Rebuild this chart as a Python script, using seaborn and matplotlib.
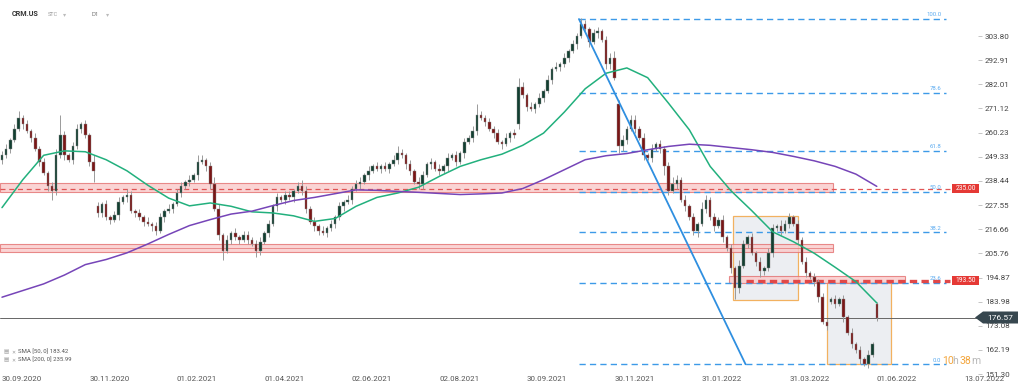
import numpy as np
import pandas as pd
import seaborn as sns
import matplotlib.pyplot as plt
from matplotlib.patches import Rectangle, Polygon

W, H = 1024, 390

# ---- candles: one candle per 2 trading days, open = previous close unless gapped
step = 2
closes = [250, 253, 257, 262, 267, 264, 261, 258, 253, 247,
          242, 236, 234, 250, 259, 250, 248, 254, 262, 264,
          259, 247, 243, 224, 228, 222, 221, 223, 229, 231,
          232, 225, 224, 222, 220, 219, 218, 216, 222, 225,
          226, 228, 233, 236, 238, 239, 241, 247, 248, 245,
          237, 226, 214, 207, 212, 215, 213, 212, 214, 212,
          210, 207, 211, 215, 219, 227, 231, 230, 232, 231,
          234, 236, 234, 226, 220, 218, 216, 215, 217, 219,
          222, 227, 229, 230, 235, 237, 238, 241, 243, 245,
          244, 245, 244, 246, 248, 251, 250, 246, 243, 238,
          237, 241, 246, 247, 244, 243, 245, 249, 250, 247,
          251, 256, 258, 261, 268, 267, 265, 262, 260, 256,
          255, 258, 260, 259, 281, 277, 272, 271, 273, 276,
          279, 284, 289, 290, 291, 294, 297, 300, 304, 309,
          307, 301, 305, 306, 302, 291, 294, 285, 254, 257,
          262, 266, 262, 258, 250, 249, 253, 255, 253, 245,
          234, 237, 239, 230, 227, 222, 216, 219, 226, 230,
          222, 218, 221, 213, 208, 199, 190, 200, 210, 213,
          206, 202, 198, 199, 206, 217, 218, 216, 219, 222,
          219, 212, 202, 197, 195, 193, 186, 175, 173, 185,
          183, 185, 177, 170, 165, 162, 158, 156, 160, 165, 176.57]
gap_opens = {0: 248, 23: 227, 124: 264, 148: 273, 199: 184, 210: 183}
wick_up = [2, 2, 1, 2, 3, 1, 2, 1, 2, 1,
           2, 1, 2, 3, 9, 2, 1, 2, 2, 1,
           2, 1, 3, 2, 1, 2, 1, 2, 2, 1,
           3, 2, 1, 2, 1, 2, 1, 2, 2, 1,
           2, 1, 2, 2, 1, 2, 1, 3, 2, 1,
           2, 3, 2, 1, 2, 1, 2, 1, 2, 2,
           1, 2, 2, 1, 2, 1, 2, 1, 2, 2,
           1, 2, 3, 2, 1, 2, 1, 2, 1, 2,
           1, 2, 1, 2, 1, 2, 2, 1, 2, 1,
           2, 1, 2, 1, 2, 3, 2, 1, 2, 1,
           2, 2, 1, 2, 1, 2, 1, 2, 1, 2,
           1, 2, 1, 2, 5, 2, 1, 2, 1, 2,
           1, 2, 1, 2, 4, 2, 1, 2, 1, 2,
           1, 2, 1, 2, 1, 2, 1, 2, 1, 3,
           2, 1, 2, 2, 1, 2, 2, 3, 2, 2,
           1, 2, 2, 1, 2, 1, 2, 1, 2, 1,
           2, 3, 2, 1, 2, 1, 2, 1, 3, 2,
           1, 2, 1, 2, 1, 2, 1, 3, 2, 1,
           2, 1, 2, 1, 2, 2, 1, 3, 2, 2,
           1, 2, 1, 2, 1, 2, 1, 2, 1, 1,
           2, 1, 2, 1, 2, 1, 2, 1, 2, 1, 1]
wick_dn = [2, 1, 2, 1, 1, 2, 1, 2, 1, 2,
           1, 2, 4, 2, 1, 2, 1, 2, 1, 2,
           1, 2, 5, 2, 2, 1, 2, 1, 2, 1,
           2, 1, 2, 1, 2, 1, 2, 2, 1, 2,
           1, 2, 1, 2, 1, 2, 1, 2, 1, 2,
           2, 1, 2, 4, 1, 2, 1, 2, 1, 2,
           1, 3, 2, 1, 2, 1, 2, 1, 2, 1,
           2, 1, 2, 2, 1, 2, 2, 1, 2, 1,
           2, 1, 2, 1, 2, 1, 2, 1, 2, 1,
           1, 2, 1, 2, 1, 2, 1, 2, 2, 1,
           2, 2, 1, 2, 1, 2, 1, 2, 1, 2,
           1, 2, 1, 2, 2, 1, 2, 1, 2, 1,
           2, 1, 2, 1, 2, 1, 2, 1, 2, 1,
           2, 1, 2, 1, 2, 1, 2, 1, 2, 1,
           1, 2, 1, 2, 1, 2, 2, 1, 3, 2,
           2, 1, 2, 1, 2, 1, 2, 1, 2, 4,
           2, 1, 2, 1, 2, 1, 2, 3, 1, 2,
           1, 2, 1, 2, 1, 2, 5, 2, 1, 2,
           1, 2, 3, 2, 1, 2, 1, 2, 1, 2,
           1, 2, 1, 2, 1, 2, 2, 1, 2, 1,
           2, 1, 2, 1, 2, 1, 2, 1, 2, 1, 1.5]

# ---- moving averages, one value every 10 trading days
sma_step = 10
sma50 = [226.4, 239, 250, 252, 251.6, 248, 243, 236.5, 230.7, 227.2,
         228.5, 227, 224.5, 224, 222.7, 220.2, 221.5, 227, 231, 233,
         235.6, 240.5, 245, 248, 250.5, 254.5, 260, 269.5, 280, 287,
         289.4, 285, 273.5, 261.5, 245, 234, 225, 215.5, 211, 205.8,
         199.5, 193, 183.42]
sma200 = [186, 189, 192, 196, 200.7, 203, 206, 210, 214.3, 218.3,
          221, 223.5, 224.8, 227.3, 229.6, 231, 232.7, 234.4, 234.2, 233.7,
          233.3, 232.8, 232.3, 232.6, 233, 235, 239, 243.5, 248, 249.8,
          250.8, 252.5, 254, 255, 254.5, 253.5, 252.5, 251.3, 249.5, 247.5,
          245, 241.5, 235.99]

date_ticks = [0, 42, 84, 126, 168, 210, 252, 294, 336, 378, 420, 462]
date_labels = ["30.09.2020", "30.11.2020", "01.02.2021", "01.04.2021",
               "02.06.2021", "02.08.2021", "30.09.2021", "30.11.2021",
               "31.01.2022", "31.03.2022", "01.06.2022", "13.07.2022"]
price_ticks = [303.80, 292.91, 282.01, 271.12, 260.23, 249.33, 238.44, 227.55,
               216.66, 205.76, 194.87, 183.98, 173.08, 162.19, 151.30]

# ---- drawing tools
fib_levels = [100.0, 78.6, 61.8, 50.0, 38.2, 23.6, 0.0]
fib_hi, fib_lo = 311.45, 155.75
fib_span = [277, 453]
trend_idx = [277, 357]
trend_price = [311.45, 155.75]
zones = [(-1, 399, 233.5, 237.5), (-1, 399, 206.2, 209.8), (349, 433.5, 192.2, 195.4)]
boxes = [(351, 382, 184.55, 222.8), (396, 427, 155.75, 192.65)]
last_price = 176.57
sma50_last, sma200_last = 183.42, 235.99

sns.set_theme(style="white")
plt.rcParams['font.family'] = ['Roboto', 'DejaVu Sans']

fig = plt.figure(figsize=(W / 100, H / 100), dpi=100)
ax = fig.add_axes([0, 1 - 376 / H, 978 / W, 376 / H])
ax.set_xlim(-0.96, 468.6)
ax.set_ylim(150.46, 320.04)


def fpx(x, y):
    return x / W, 1 - y / H


# boxes and zones (behind)
for x0, x1, lo, hi in boxes:
    ax.add_patch(Rectangle((x0, lo), x1 - x0, hi - lo, fc='#eceef2', ec='#f2b160', lw=0.9, zorder=1))
for x0, x1, lo, hi in zones:
    ax.add_patch(Rectangle((x0, lo), x1 - x0, hi - lo, fc='#f9caca', ec='#e37070', lw=0.8,
                           alpha=0.8, zorder=2))
ax.hlines(208.0, -1, 399, colors='#e37070', lw=0.5, zorder=2)

# fibonacci
for lvl in fib_levels:
    p = fib_lo + lvl / 100 * (fib_hi - fib_lo)
    ax.hlines(p, fib_span[0], fib_span[1], colors='#3d9ae8', linestyles=(0, (4.5, 3)), lw=1.0, zorder=2)
    ax.annotate(f"{lvl:.1f}", (451, p), xytext=(0, 1.2), textcoords='offset points',
                ha='right', va='bottom', fontsize=4.3, color='#5aaaf0', zorder=6)
ax.plot(trend_idx, trend_price, color='#2f8fe0', lw=1.3, zorder=6)

# key levels
ax.hlines(235.0, -1, 455, colors='#e05555', linestyles=(0, (4, 3)), lw=0.9, zorder=2.5)
ax.hlines(193.5, 357, 455, colors='#e04848', linestyles=(0, (2.2, 1.3)), lw=2.4, zorder=2.5)
ax.axhline(last_price, color='#666666', lw=0.7, zorder=2.5)

# candles
n = len(closes)
opens = [gap_opens.get(k, closes[k - 1] if k else closes[0]) for k in range(n)]
df = pd.DataFrame(dict(idx=np.arange(n) * step, open=opens, close=closes, up=wick_up, dn=wick_dn))
df['top'] = df[['open', 'close']].max(axis=1)
df['bot'] = df[['open', 'close']].min(axis=1)
df['high'] = df['top'] + df['up']
df['low'] = df['bot'] - df['dn']
rising = df['close'] >= df['open']
ax.vlines(df['idx'], df['low'], df['high'], color='#9a9a9a', lw=0.7, zorder=3)
ax.bar(df['idx'], (df['top'] - df['bot']).clip(lower=0.4), bottom=df['bot'], width=1.2,
       color=np.where(rising, '#123f31', '#7a1616'), edgecolor='#8c8c8c', linewidth=0.3, zorder=4)

# moving averages
sma = pd.DataFrame(dict(idx=np.arange(len(sma50)) * sma_step, sma50=sma50, sma200=sma200))
sns.lineplot(data=sma, x='idx', y='sma50', color='#22b07d', lw=1.1, ax=ax, zorder=5)
sns.lineplot(data=sma, x='idx', y='sma200', color='#7645b8', lw=1.1, ax=ax, zorder=5)
ax.set_xlabel('')
ax.set_ylabel('')

# axes
ax.grid(False)
for s in ax.spines.values():
    s.set_visible(False)
ax.yaxis.tick_right()
ax.set_yticks(price_ticks, [f"{v:.2f}" for v in price_ticks])
ax.tick_params(axis='y', length=3, width=0.6, color='#bbbbbb', pad=2, labelsize=5.8, labelcolor='#444444')
ax.set_xticks(date_ticks, date_labels)
for lbl in ax.get_xticklabels():
    lbl.set_ha('left')
ax.tick_params(axis='x', length=0, pad=0, labelsize=5.7, labelcolor='#555555')

# price tags
tag = [(975, 317.5), (983, 311.5), (1018, 311.5), (1018, 323.5), (983, 323.5)]
fig.add_artist(Polygon([fpx(*p) for p in tag], closed=True, fc='#37474f', ec='none',
                       transform=fig.transFigure))
fig.text(*fpx(1000, 317.5), f"{last_price:.2f}", color='white', fontsize=6, ha='center', va='center')
for val, yc in [(235.00, 188.5), (193.50, 280.6)]:
    x0, y0 = fpx(952, yc + 4.5)
    fig.add_artist(Rectangle((x0, y0), 27 / W, 9 / H, fc='#e53935', ec='none', transform=fig.transFigure))
    fig.text(*fpx(965.5, yc), f"{val:.2f}", color='white', fontsize=4.8, ha='center', va='center')

# countdown
for txt, x, col in [("10", 942, '#f3a53c'), ("h", 952.5, '#b9b9b9'), ("38", 960, '#f3a53c'), ("m", 971.5, '#b9b9b9')]:
    fig.text(*fpx(x, 364.5), txt, color=col, fontsize=7.5, ha='left', va='baseline')

# header
fig.text(*fpx(12, 14), "CRM.US", fontsize=5.2, fontweight='bold', color='#333333', va='center')
fig.text(*fpx(48, 14.5), "STC", fontsize=4, color='#999999', va='center')
fig.text(*fpx(63, 14.5), "▾", fontsize=4.5, color='#bbbbbb', va='center', family=['DejaVu Sans'])
fig.text(*fpx(92, 14.5), "D1", fontsize=4.3, color='#777777', va='center')
fig.text(*fpx(106, 14.5), "▾", fontsize=4.5, color='#bbbbbb', va='center', family=['DejaVu Sans'])

# indicator legend
for yc, txt in [(352, f"SMA [50, 0] {sma50_last:.2f}"), (359.5, f"SMA [200, 0] {sma200_last:.2f}")]:
    fig.text(*fpx(4, yc), "▤", fontsize=4, color='#999999', va='center', family=['DejaVu Sans'])
    fig.text(*fpx(11.5, yc), "✕", fontsize=3.5, color='#999999', va='center', family=['DejaVu Sans'])
    fig.text(*fpx(18.5, yc), txt, fontsize=4.3, color='#555555', va='center')

fig.savefig("out.png", dpi=100, facecolor='white')
